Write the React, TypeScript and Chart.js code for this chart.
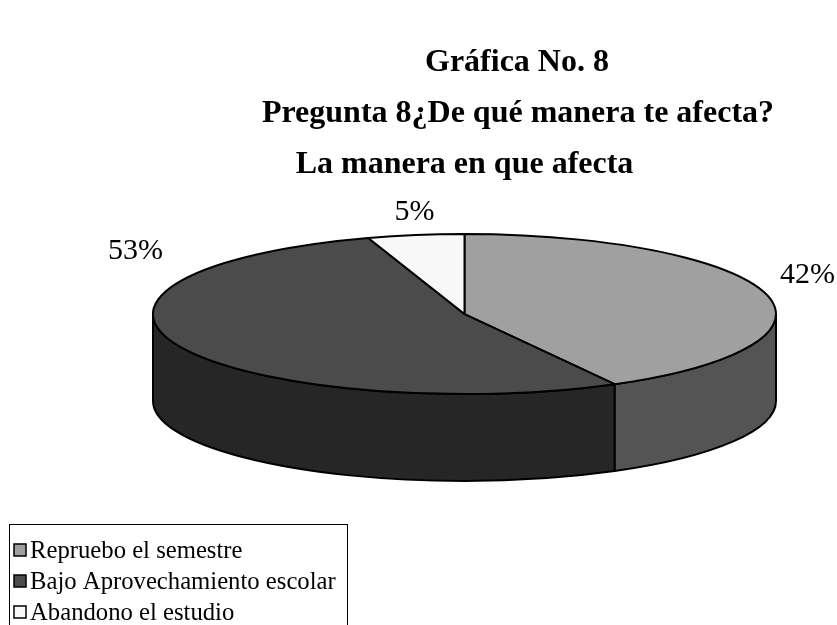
import { useEffect, useRef } from "react";
import { Chart, registerables } from "chart.js";

Chart.register(...registerables);

// ---- data ----
const categories = ["Repruebo el semestre", "Bajo Aprovechamiento escolar", "Abandono el estudio"];
const values = [42, 53, 5];
const valueLabels = ["42%", "53%", "5%"];
const topColors = ["#a0a0a0", "#4b4b4b", "#f8f8f8"];
const sideColors = ["#545454", "#262626", "#8a8a8a"];
const headerLines = ["Gráfica No. 8", "Pregunta 8¿De qué manera te afecta?"];
const chartTitle = "La manera en que afecta";

const SERIF = "'Liberation Serif', 'Times New Roman', serif";
const TILT = 0.257;

function pieGeom(chart: any) {
  const area = chart.chartArea;
  const rx = (area.right - area.left) / 2;
  const cx = (area.left + area.right) / 2;
  const ry = rx * TILT;
  const depth = area.bottom - area.top - 2 * ry;
  const cy = area.top + ry;
  return { cx, cy, rx, ry, depth };
}

const pie3d = {
  id: "pie3d",
  beforeDatasetsDraw(chart: any) {
    const ctx = chart.ctx;
    const meta = chart.getDatasetMeta(0);
    const { cx, cy, rx, ry, depth } = pieGeom(chart);
    ctx.save();
    ctx.lineWidth = 2;
    ctx.lineJoin = "round";
    ctx.strokeStyle = "#000";
    // side walls (front half only)
    meta.data.forEach((arc: any, i: number) => {
      const { startAngle, endAngle } = arc.getProps(["startAngle", "endAngle"], true);
      for (const k of [-2 * Math.PI, 0, 2 * Math.PI]) {
        const a = Math.max(startAngle, k);
        const b = Math.min(endAngle, k + Math.PI);
        if (b <= a) continue;
        ctx.beginPath();
        ctx.ellipse(cx, cy, rx, ry, 0, a, b, false);
        ctx.lineTo(cx + rx * Math.cos(b), cy + depth + ry * Math.sin(b));
        ctx.ellipse(cx, cy + depth, rx, ry, 0, b, a, true);
        ctx.closePath();
        ctx.fillStyle = sideColors[i];
        ctx.fill();
        ctx.stroke();
      }
    });
    // top faces
    meta.data.forEach((arc: any, i: number) => {
      const { startAngle, endAngle } = arc.getProps(["startAngle", "endAngle"], true);
      ctx.beginPath();
      ctx.moveTo(cx, cy);
      ctx.ellipse(cx, cy, rx, ry, 0, startAngle, endAngle, false);
      ctx.closePath();
      ctx.fillStyle = topColors[i];
      ctx.fill();
      ctx.stroke();
    });
    ctx.restore();
    return false;
  },
  afterDraw(chart: any) {
    const ctx = chart.ctx;
    const { cx, cy, rx, ry } = pieGeom(chart);
    ctx.save();
    ctx.fillStyle = "#000";
    ctx.textBaseline = "alphabetic";

    // headings
    ctx.font = `bold 32px ${SERIF}`;
    ctx.textAlign = "center";
    ctx.fillText(headerLines[0], 517, 71);
    ctx.fillText(headerLines[1], 518, 122);
    ctx.fillText(chartTitle, cx, 173);

    // percentage labels
    ctx.font = `30px ${SERIF}`;
    ctx.textAlign = "left";
    ctx.fillText(valueLabels[0], cx + rx + 4, cy - 31);
    ctx.textAlign = "right";
    ctx.fillText(valueLabels[1], cx - rx + 10, cy - 55);
    ctx.textAlign = "center";
    ctx.fillText(valueLabels[2], cx - 50, cy - ry - 14);

    // legend
    const lx = 9, ly = 524;
    ctx.lineWidth = 1;
    ctx.strokeStyle = "#000";
    ctx.strokeRect(lx + 0.5, ly + 0.5, 338, 200);
    ctx.font = `24.7px ${SERIF}`;
    ctx.textAlign = "left";
    const labels = chart.data.labels as string[];
    labels.forEach((lab, i) => {
      const yc = 550 + i * 31;
      ctx.fillStyle = topColors[i];
      ctx.fillRect(14, yc - 6, 12, 12);
      ctx.lineWidth = 1.5;
      ctx.strokeRect(14, yc - 6, 12, 12);
      ctx.fillStyle = "#000";
      ctx.fillText(lab, 30, yc + 8);
    });
    ctx.restore();
  },
};

export default function App() {
  const ref = useRef<HTMLCanvasElement | null>(null);
  useEffect(() => {
    if (!ref.current) return;
    const chart = new Chart(ref.current, {
      type: "pie",
      data: {
        labels: categories,
        datasets: [
          {
            data: values,
            backgroundColor: topColors,
            borderColor: "#000",
            borderWidth: 2,
          },
        ],
      },
      options: {
        responsive: false,
        animation: false,
        devicePixelRatio: 1,
        layout: { padding: { left: 153, right: 61, top: 234, bottom: 144 } },
        plugins: {
          legend: { display: false },
          tooltip: { enabled: false },
          title: { display: false },
        },
      },
      plugins: [pie3d],
    });
    return () => chart.destroy();
  }, []);
  return (
    <div style={{ position: "absolute", left: 0, top: 0, width: 837, height: 625, background: "#fff" }}>
      <canvas ref={ref} width={837} height={625} style={{ display: "block" }} />
    </div>
  );
}
